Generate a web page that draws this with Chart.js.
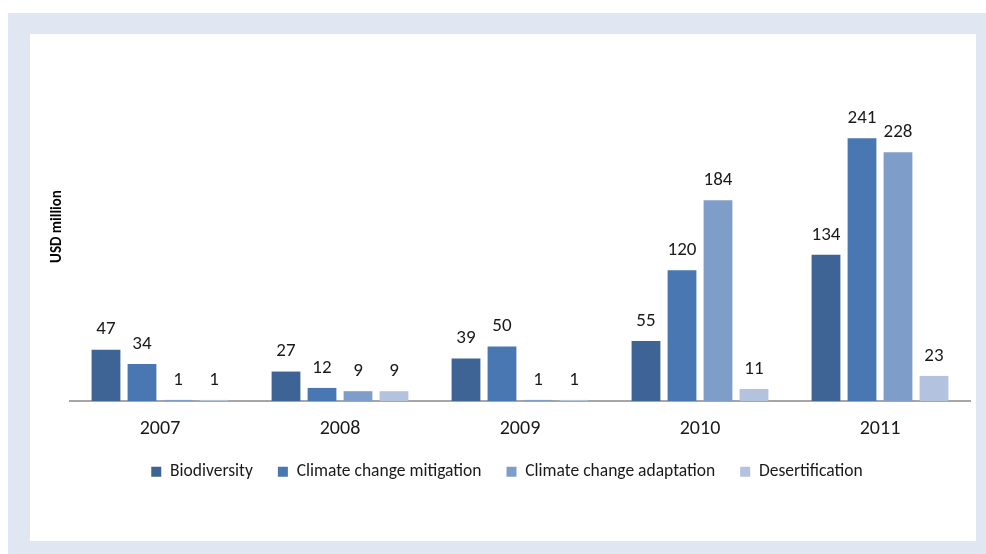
<!DOCTYPE html>
<html>
<head>
<meta charset="utf-8">
<script src="https://cdn.jsdelivr.net/npm/chart.js@4.4.1/dist/chart.umd.min.js"></script>
<style>
  html, body { margin: 0; padding: 0; background: #ffffff; width: 986px; height: 554px; overflow: hidden; }
  #panel { position: absolute; left: 8px; top: 13px; width: 978px; height: 541px; background: #e0e7f2; }
  #inner { position: absolute; left: 30px; top: 34px; width: 946px; height: 507px; background: #ffffff; }
  #wrap { position: absolute; left: 0; top: 0; width: 986px; height: 554px; }
</style>
</head>
<body>
<div id="panel"></div>
<div id="inner"></div>
<div id="wrap"><canvas id="c" width="986" height="554"></canvas></div>
<script>
const categories = ["2007", "2008", "2009", "2010", "2011"];
const biodiversity = [47, 27, 39, 55, 134];
const mitigation = [34, 12, 50, 120, 241];
const adaptation = [1, 9, 1, 184, 228];
const desertification = [1, 9, 1, 11, 23];
const seriesNames = ["Biodiversity", "Climate change mitigation", "Climate change adaptation", "Desertification"];
const seriesColors = ["#3d6494", "#4877b1", "#7f9dc9", "#b3c3df"];
const yTitle = "USD million";

const FONT = "Carlito, 'Liberation Sans', Arial, sans-serif";

const valueLabels = {
  id: 'valueLabels',
  afterDatasetsDraw(chart) {
    const ctx = chart.ctx;
    ctx.save();
    ctx.font = "19px " + FONT;
    ctx.fillStyle = "#1a1a1a";
    ctx.textAlign = "center";
    ctx.textBaseline = "middle";
    chart.data.datasets.forEach((ds, i) => {
      const meta = chart.getDatasetMeta(i);
      meta.data.forEach((bar, j) => {
        ctx.fillText(String(ds.data[j]), bar.x, bar.y - 20);
      });
    });
    ctx.restore();
  }
};

const allSeries = [biodiversity, mitigation, adaptation, desertification];

new Chart(document.getElementById('c'), {
  type: 'bar',
  data: {
    labels: categories,
    datasets: allSeries.map((d, i) => ({
      label: seriesNames[i],
      data: d,
      backgroundColor: seriesColors[i],
      borderWidth: 0,
      categoryPercentage: 0.8,
      barPercentage: 0.8
    }))
  },
  options: {
    responsive: false,
    animation: false,
    devicePixelRatio: 1,
    layout: { padding: { left: 44, right: 16, top: 52, bottom: 63.5 } },
    plugins: {
      legend: {
        position: 'bottom',
        labels: {
          boxWidth: 10, boxHeight: 10, padding: 25,
          color: "#1a1a1a",
          font: { family: FONT, size: 17.5 }
        }
      },
      tooltip: { enabled: false }
    },
    scales: {
      x: {
        grid: { display: false, drawTicks: false },
        border: { display: true, color: "#a6a6a6", width: 2 },
        ticks: { color: "#1a1a1a", font: { family: FONT, size: 20 }, padding: 16 },
        afterFit(scale) { scale.height = 37; }
      },
      y: {
        min: 0, max: 320,
        grid: { display: false, drawTicks: false },
        border: { display: false },
        ticks: { display: false },
        title: { display: true, text: yTitle, color: "#000", font: { family: FONT, size: 15, weight: 'bold' }, padding: { top: 4, bottom: 4 } }
      }
    }
  },
  plugins: [valueLabels]
});
</script>
</body>
</html>
